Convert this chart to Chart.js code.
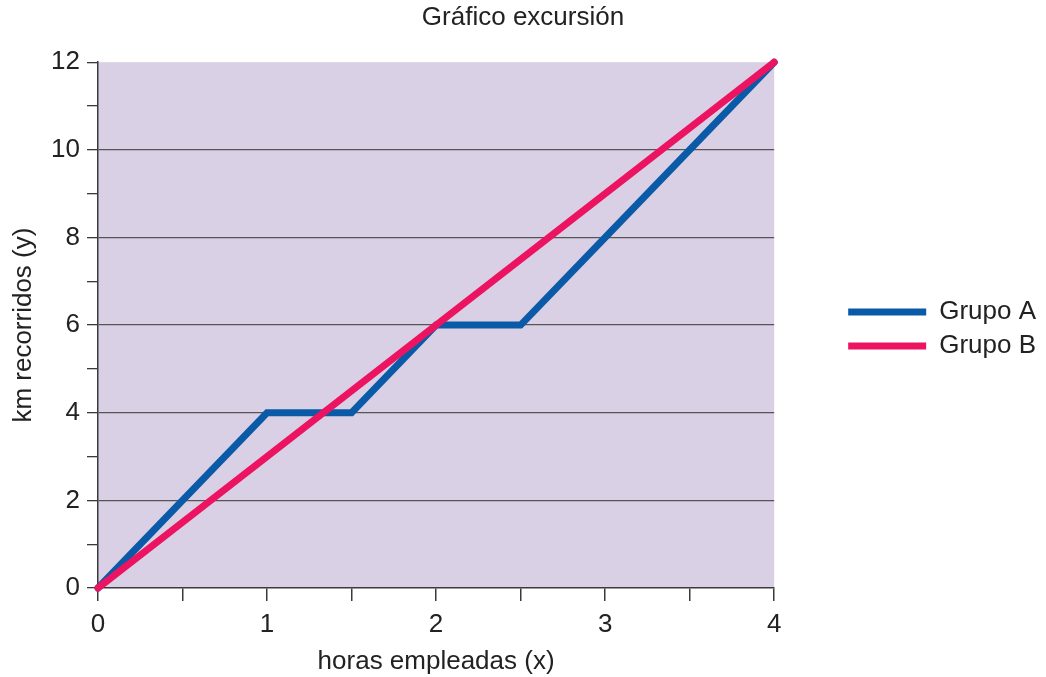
<!DOCTYPE html>
<html>
<head>
<meta charset="utf-8">
<script src="https://cdn.jsdelivr.net/npm/chart.js@4.4.1/dist/chart.umd.min.js"></script>
<style>
  html, body { margin: 0; padding: 0; background: #fff; }
  #wrap { width: 1046px; height: 677px; }
</style>
</head>
<body>
<div id="wrap"><canvas id="grafico"></canvas></div>
<script>
// Datos
const horasA = [0, 1, 1.5, 2, 2.5, 3, 4];
const kmA = [0, 4, 4, 6, 6, 8, 12];
const horasB = [0, 4];
const kmB = [0, 12];
const etiquetasSeries = ['Grupo A', 'Grupo B'];

const azul = '#0a5aa8';
const rosa = '#ec1460';
const fondo = '#d9d0e5';
const lineaEje = '#3a3a3a';

Chart.defaults.font.family = '"Liberation Sans", Arial, sans-serif';
Chart.defaults.font.size = 26;
Chart.defaults.color = '#222';

// Fondo del área del gráfico
const fondoPlugin = {
    id: 'fondoArea',
    beforeDraw: function(chart) {
        const { ctx, chartArea } = chart;
        ctx.save();
        ctx.fillStyle = fondo;
        ctx.fillRect(chartArea.left, chartArea.top, chartArea.right - chartArea.left, chartArea.bottom - chartArea.top);
        ctx.restore();
    }
};

const toPoints = (xs, ys) => xs.map((x, i) => ({ x: x, y: ys[i] }));

new Chart(document.getElementById('grafico'), {
    type: 'line',
    data: {
        datasets: [
            {
                label: etiquetasSeries[0],
                data: toPoints(horasA, kmA),
                borderColor: azul,
                backgroundColor: azul,
                borderWidth: 7,
                borderCapStyle: 'round',
                pointRadius: 0,
                tension: 0,
                clip: false,
                order: 2
            },
            {
                label: etiquetasSeries[1],
                data: toPoints(horasB, kmB),
                borderColor: rosa,
                backgroundColor: rosa,
                borderWidth: 7,
                borderCapStyle: 'round',
                pointRadius: 0,
                tension: 0,
                clip: false,
                order: 1
            }
        ]
    },
    plugins: [fondoPlugin],
    options: {
        responsive: true,
        maintainAspectRatio: false,
        animation: false,
        layout: { padding: 0 },
        plugins: {
            title: {
                display: true,
                text: 'Gráfico excursión',
                font: { size: 26, weight: 'normal' },
                padding: { top: 2, bottom: 29 }
            },
            legend: {
                position: 'right',
                fullSize: false,
                // título vacío: sólo baja un poco las entradas
                title: { display: true, text: ' ', font: { size: 8, lineHeight: 1 }, padding: 0 },
                labels: {
                    usePointStyle: true,
                    pointStyle: 'line',
                    pointStyleWidth: 78,
                    padding: 8,
                    font: { size: 26, lineHeight: 1 },
                    sort: (a, b) => a.datasetIndex - b.datasetIndex
                }
            },
            tooltip: { enabled: false }
        },
        scales: {
            x: {
                type: 'linear',
                min: 0,
                max: 4,
                ticks: {
                    stepSize: 0.5,
                    padding: 8,
                    callback: v => (v % 1 === 0 ? v : '')
                },
                grid: {
                    drawOnChartArea: false,
                    tickColor: lineaEje,
                    tickLength: 13,
                    lineWidth: 1.5
                },
                border: { display: true, color: lineaEje, width: 1.5 },
                title: {
                    display: true,
                    text: 'horas empleadas (x)',
                    padding: { top: 0, bottom: 0 }
                },
                afterFit: s => { s.height = 89; }
            },
            y: {
                min: 0,
                max: 12,
                ticks: {
                    stepSize: 1,
                    padding: 7,
                    callback: v => (v % 2 === 0 ? v : '')
                },
                grid: {
                    color: c => (c.tick && c.tick.value % 2 === 0 && c.tick.value > 0 && c.tick.value < 12) ? '#555' : 'rgba(0,0,0,0)',
                    tickColor: lineaEje,
                    tickLength: 11,
                    lineWidth: 1.3
                },
                border: { display: true, color: lineaEje, width: 1.5 },
                title: {
                    display: true,
                    text: 'km recorridos (y)',
                    padding: { top: 8, bottom: 0 }
                },
                afterFit: s => { s.width = 98; }
            },
            // eje oculto: sólo deja hueco entre el gráfico y la leyenda
            hueco: {
                display: false,
                position: 'right',
                afterFit: s => { s.width = 66; }
            }
        }
    }
});
</script>
</body>
</html>
